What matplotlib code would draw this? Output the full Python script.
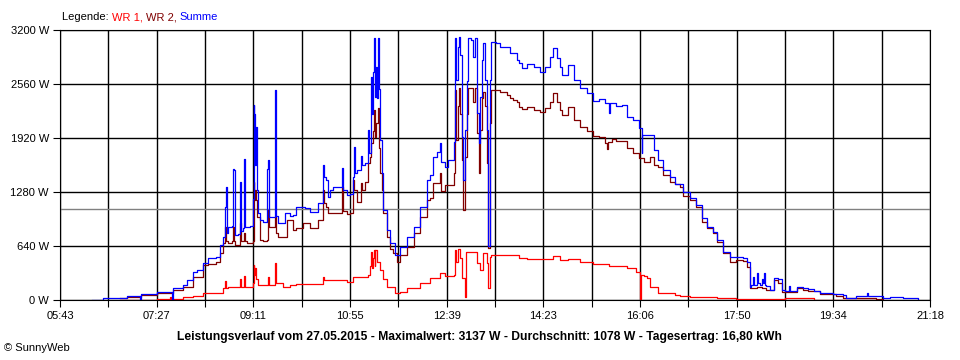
import numpy as np
from matplotlib import pyplot as plt

# WR 1 (red), WR 2 (dark red), Summe (blue): (time, watts)
wr1 = [("06:47", 3), ("07:27", 12), ("07:41", 35), ("07:42", 12), ("07:55", 40),
       ("08:06", 47), ("08:17", 79), ("08:35", 80), ("08:38", 138), ("08:40", 229),
       ("08:41", 138), ("08:44", 160), ("08:56", 250), ("08:57", 158), ("09:01", 284),
       ("09:02", 158), ("09:10", 200), ("09:11", 415), ("09:12", 300), ("09:13", 380),
       ("09:14", 250), ("09:16", 178), ("09:27", 277), ("09:28", 178), ("09:34", 435),
       ("09:35", 197), ("09:43", 158), ("09:50", 180), ("09:57", 190), ("10:04", 190),
       ("10:12", 186), ("10:20", 186), ("10:26", 277), ("10:27", 237), ("10:44", 237),
       ("10:51", 210), ("10:58", 277), ("11:14", 300), ("11:16", 400), ("11:17", 573),
       ("11:18", 380), ("11:19", 500), ("11:20", 593), ("11:21", 400), ("11:22", 593),
       ("11:24", 450), ("11:27", 356), ("11:30", 250), ("11:34", 158), ("11:43", 79),
       ("11:48", 100), ("11:56", 138), ("12:10", 197), ("12:21", 257), ("12:31", 316),
       ("12:37", 284), ("12:46", 296), ("12:48", 593), ("12:49", 450), ("12:51", 605),
       ("12:53", 500), ("12:55", 257), ("12:58", 40), ("12:59", 573), ("13:09", 573),
       ("13:11", 435), ("13:14", 356), ("13:18", 553), ("13:22", 435), ("13:23", 138),
       ("13:25", 513), ("13:26", 533), ("13:47", 533), ("13:56", 494), ("14:05", 486),
       ("14:24", 482), ("14:33", 525), ("14:40", 474), ("14:49", 490), ("15:02", 446),
       ("15:16", 423), ("15:33", 403), ("15:52", 375), ("16:02", 336), ("16:05", 336),
       ("16:06", 10), ("16:07", 296), ("16:11", 284), ("16:14", 257), ("16:17", 158),
       ("16:26", 79), ("16:44", 59), ("16:49", 47), ("17:00", 32), ("17:29", 24),
       ("17:50", 12), ("18:42", 24), ("19:13", 5), ("20:28", 0)]

wr2 = [("06:47", 20), ("06:55", 40), ("07:10", 59), ("07:27", 79), ("07:44", 118),
       ("07:55", 160), ("08:06", 276), ("08:17", 415), ("08:22", 430), ("08:31", 454),
       ("08:35", 553), ("08:38", 672), ("08:40", 869), ("08:41", 700), ("08:44", 672),
       ("08:48", 700), ("08:49", 869), ("08:50", 700), ("08:51", 652), ("08:54", 652),
       ("08:56", 909), ("08:57", 700), ("09:01", 790), ("09:02", 700), ("09:04", 672),
       ("09:10", 700), ("09:11", 1402), ("09:12", 1185), ("09:13", 1300), ("09:14", 1185),
       ("09:15", 987), ("09:18", 711), ("09:21", 700), ("09:25", 711), ("09:27", 1067),
       ("09:28", 869), ("09:30", 869), ("09:34", 987), ("09:35", 800), ("09:37", 750),
       ("09:43", 750), ("09:47", 948), ("09:50", 948), ("09:53", 830), ("09:57", 850),
       ("10:04", 909), ("10:06", 916), ("10:12", 849), ("10:17", 849), ("10:20", 948),
       ("10:24", 948), ("10:26", 1304), ("10:27", 1146), ("10:29", 1100), ("10:31", 1027),
       ("10:44", 1027), ("10:46", 1343), ("10:47", 1050), ("10:51", 1019), ("10:55", 1030),
       ("10:58", 1422), ("10:59", 1300), ("11:02", 1165), ("11:05", 1165), ("11:07", 1383),
       ("11:08", 1300), ("11:11", 1400), ("11:14", 1620), ("11:16", 1700), ("11:17", 1857),
       ("11:19", 2000), ("11:20", 2252), ("11:21", 1935), ("11:23", 2100), ("11:25", 2272),
       ("11:26", 1800), ("11:27", 1501), ("11:29", 1300), ("11:30", 1027), ("11:34", 750),
       ("11:38", 600), ("11:41", 553), ("11:45", 454), ("11:48", 533), ("11:56", 632),
       ("12:03", 790), ("12:10", 987), ("12:17", 1185), ("12:21", 1205), ("12:24", 1383),
       ("12:31", 1509), ("12:33", 1296), ("12:37", 1363), ("12:44", 1363), ("12:46", 1501),
       ("12:48", 2489), ("12:49", 1896), ("12:51", 2300), ("12:52", 2509), ("12:53", 2200),
       ("12:55", 1659), ("12:56", 1067), ("12:58", 1699), ("13:00", 2200), ("13:02", 2509),
       ("13:07", 2350), ("13:09", 2509), ("13:11", 1975), ("13:13", 1501), ("13:14", 2015),
       ("13:16", 2400), ("13:18", 2469), ("13:20", 2300), ("13:22", 1620), ("13:23", 612),
       ("13:25", 2094), ("13:26", 2489), ("13:32", 2489), ("13:36", 2469), ("13:43", 2430),
       ("13:47", 2391), ("13:50", 2370), ("13:54", 2351), ("13:56", 2291), ("13:59", 2260),
       ("14:05", 2284), ("14:12", 2250), ("14:19", 2232), ("14:24", 2272), ("14:30", 2350),
       ("14:33", 2457), ("14:37", 2351), ("14:40", 2250), ("14:43", 2193), ("14:49", 2284),
       ("14:55", 2133), ("15:02", 2054), ("15:09", 2007), ("15:16", 1944), ("15:22", 1936),
       ("15:29", 1857), ("15:31", 1790), ("15:32", 1870), ("15:36", 1904), ("15:41", 1888),
       ("15:47", 1880), ("15:52", 1798), ("15:59", 1738), ("16:05", 1679), ("16:11", 1639),
       ("16:17", 1699), ("16:21", 1600), ("16:26", 1580), ("16:31", 1481), ("16:39", 1402),
       ("16:44", 1380), ("16:49", 1343), ("16:53", 1233), ("17:00", 1180), ("17:07", 1102),
       ("17:13", 928), ("17:18", 850), ("17:25", 790), ("17:29", 691), ("17:36", 553),
       ("17:43", 454), ("17:50", 474), ("17:57", 466), ("18:01", 395), ("18:05", 138),
       ("18:12", 158), ("18:17", 138), ("18:22", 118), ("18:30", 237), ("18:35", 197),
       ("18:39", 99), ("18:46", 91), ("18:55", 138), ("19:02", 118), ("19:07", 111),
       ("19:20", 71), ("19:37", 51), ("19:45", 28), ("20:00", 20), ("20:20", 12),
       ("20:28", 0)]

summe = [("06:17", 5), ("06:29", 20), ("06:55", 51), ("07:09", 0), ("07:10", 71),
         ("07:27", 98), ("07:43", 0), ("07:44", 138), ("07:55", 180), ("07:59", 237),
         ("08:06", 335), ("08:10", 360), ("08:17", 435), ("08:22", 500), ("08:31", 513),
         ("08:35", 652), ("08:38", 750), ("08:40", 1100), ("08:41", 1343), ("08:42", 800),
         ("08:44", 869), ("08:48", 880), ("08:49", 1549), ("08:50", 1540), ("08:51", 770),
         ("08:54", 780), ("08:56", 1402), ("08:57", 820), ("09:00", 850), ("09:01", 1671),
         ("09:02", 870), ("09:04", 869), ("09:07", 880), ("09:10", 1200), ("09:11", 2311),
         ("09:12", 2200), ("09:13", 1600), ("09:14", 2054), ("09:15", 1300), ("09:16", 1031),
         ("09:18", 948), ("09:21", 930), ("09:25", 960), ("09:26", 1549), ("09:27", 1659),
         ("09:28", 987), ("09:34", 2489), ("09:35", 1000), ("09:37", 912), ("09:45", 1027),
         ("09:50", 1000), ("09:53", 1010), ("09:57", 1106), ("10:06", 1094), ("10:12", 1047),
         ("10:20", 1146), ("10:26", 1600), ("10:27", 1462), ("10:29", 1420), ("10:31", 1225),
         ("10:33", 1300), ("10:36", 1343), ("10:46", 1561), ("10:47", 1300), ("10:51", 1244),
         ("10:55", 1260), ("10:58", 1462), ("10:59", 1810), ("11:00", 1500), ("11:02", 1541),
         ("11:07", 1707), ("11:08", 1600), ("11:11", 1620), ("11:14", 2015), ("11:15", 1742),
         ("11:17", 2647), ("11:18", 2200), ("11:19", 2700), ("11:20", 3101), ("11:21", 2410),
         ("11:23", 2765), ("11:24", 2400), ("11:25", 3101), ("11:26", 2500), ("11:27", 1896),
         ("11:29", 1501), ("11:30", 1067), ("11:34", 830), ("11:38", 672), ("11:43", 533),
         ("11:48", 632), ("11:56", 750), ("12:03", 869), ("12:10", 1106), ("12:17", 1422),
         ("12:21", 1481), ("12:24", 1699), ("12:28", 1750), ("12:31", 1857), ("12:33", 1639),
         ("12:37", 1580), ("12:40", 1659), ("12:46", 1876), ("12:48", 3101), ("12:49", 2607),
         ("12:51", 3000), ("12:52", 3121), ("12:53", 2900), ("12:55", 1935), ("12:56", 1422),
         ("12:58", 2015), ("13:00", 2600), ("13:02", 3101), ("13:05", 3081), ("13:07", 2884),
         ("13:09", 3101), ("13:11", 2212), ("13:13", 1857), ("13:14", 2410), ("13:16", 2844),
         ("13:18", 3042), ("13:20", 2607), ("13:22", 2015), ("13:23", 640), ("13:25", 2607),
         ("13:26", 3062), ("13:32", 3042), ("13:36", 3002), ("13:43", 3002), ("13:47", 2923),
         ("13:54", 2844), ("13:56", 2805), ("13:59", 2746), ("14:05", 2793), ("14:12", 2765),
         ("14:19", 2706), ("14:24", 2765), ("14:30", 2884), ("14:33", 2983), ("14:37", 2864),
         ("14:40", 2765), ("14:43", 2667), ("14:49", 2785), ("14:55", 2607), ("15:02", 2509),
         ("15:09", 2450), ("15:16", 2362), ("15:22", 2379), ("15:29", 2338), ("15:33", 2212),
         ("15:34", 2330), ("15:41", 2299), ("15:47", 2311), ("15:52", 2173), ("15:59", 2133),
         ("16:05", 2035), ("16:08", 1738), ("16:09", 1955), ("16:17", 1955), ("16:21", 1778),
         ("16:26", 1659), ("16:31", 1541), ("16:39", 1462), ("16:44", 1375), ("16:53", 1284),
         ("17:00", 1205), ("17:07", 1126), ("17:13", 968), ("17:18", 869), ("17:25", 810),
         ("17:29", 711), ("17:36", 573), ("17:43", 513), ("17:57", 502), ("18:01", 454),
         ("18:05", 150), ("18:06", 180), ("18:08", 277), ("18:09", 180), ("18:12", 316),
         ("18:13", 200), ("18:15", 178), ("18:17", 250), ("18:18", 200), ("18:20", 316),
         ("18:21", 180), ("18:22", 166), ("18:26", 118), ("18:30", 257), ("18:35", 249),
         ("18:39", 118), ("18:42", 111), ("18:46", 166), ("18:48", 110), ("18:51", 103),
         ("18:55", 154), ("19:02", 138), ("19:07", 134), ("19:13", 111), ("19:20", 79),
         ("19:34", 71), ("19:45", 59), ("19:48", 28), ("19:59", 43), ("20:10", 79),
         ("20:11", 45), ("20:24", 43), ("20:28", 24), ("20:35", 36), ("20:49", 24),
         ("21:05", 0)]

time_labels = ['05:43', '07:27', '09:11', '10:55', '12:39',
               '14:23', '16:06', '17:50', '19:34', '21:18']
y_ticks = [0, 640, 1280, 1920, 2560, 3200]
average = 1078
title = ('Leistungsverlauf vom 27.05.2015 - Maximalwert: 3137 W - '
         'Durchschnitt: 1078 W - Tagesertrag: 16,80 kWh')


def to_min(s):
    h, m = s.split(':')
    return int(h) * 60 + int(m)


def split(series):
    t = np.array([to_min(a) for a, b in series])
    w = np.array([b for a, b in series])
    return t, w


plt.rcParams['font.family'] = ['Liberation Sans', 'DejaVu Sans']
plt.rcParams['font.size'] = 8

fig = plt.figure(figsize=(9.6, 3.6), dpi=100)
ax = fig.add_axes([60 / 960, 60 / 360, 870 / 960, 270 / 360])

t0, t1 = to_min(time_labels[0]), to_min(time_labels[-1])
grid_x = np.linspace(t0, t1, 19)

for x in grid_x:
    ax.axvline(x, color='black', lw=1.0, zorder=1)
for y in y_ticks:
    ax.axhline(y, color='black', lw=1.0, zorder=1)
ax.axhline(average, color='#808080', lw=1.0, zorder=1)

for series, col in [(wr1, '#FF0000'), (wr2, '#800000'), (summe, '#0000FF')]:
    t, w = split(series)
    ax.plot(t, w, color=col, lw=0.9, drawstyle='steps-post', zorder=2)

ax.set_xlim(t0, t1)
ax.set_ylim(0, 3200)
ax.set_xticks(grid_x)
ax.set_xticklabels([time_labels[i // 2] if i % 2 == 0 else '' for i in range(19)])
ax.set_yticks(y_ticks)
ax.set_yticklabels([f'{v} W' for v in y_ticks])
ax.tick_params(length=5, width=0.8, pad=3, colors='black')
for s in ax.spines.values():
    s.set_linewidth(0.8)

# legend line above the plot
leg = fig.text(62 / 960, 1 - 17 / 360, 'Legende: ', va='center', ha='left')
prev = leg
for txt, col in [('WR 1, ', '#FF0000'), ('WR 2, ', '#800000'), ('Summe', '#0000FF')]:
    prev = ax.annotate(txt, xy=(1, 0), xycoords=prev, va='bottom', ha='left', color=col,
                       annotation_clip=False)

fig.text(479 / 960, 1 - 337 / 360, title, ha='center', va='center',
         fontweight='bold', fontsize=8.7)
fig.text(4 / 960, 1 - 348 / 360, '\u00a9 SunnyWeb', ha='left', va='center')

plt.savefig('out.png', dpi=100)
